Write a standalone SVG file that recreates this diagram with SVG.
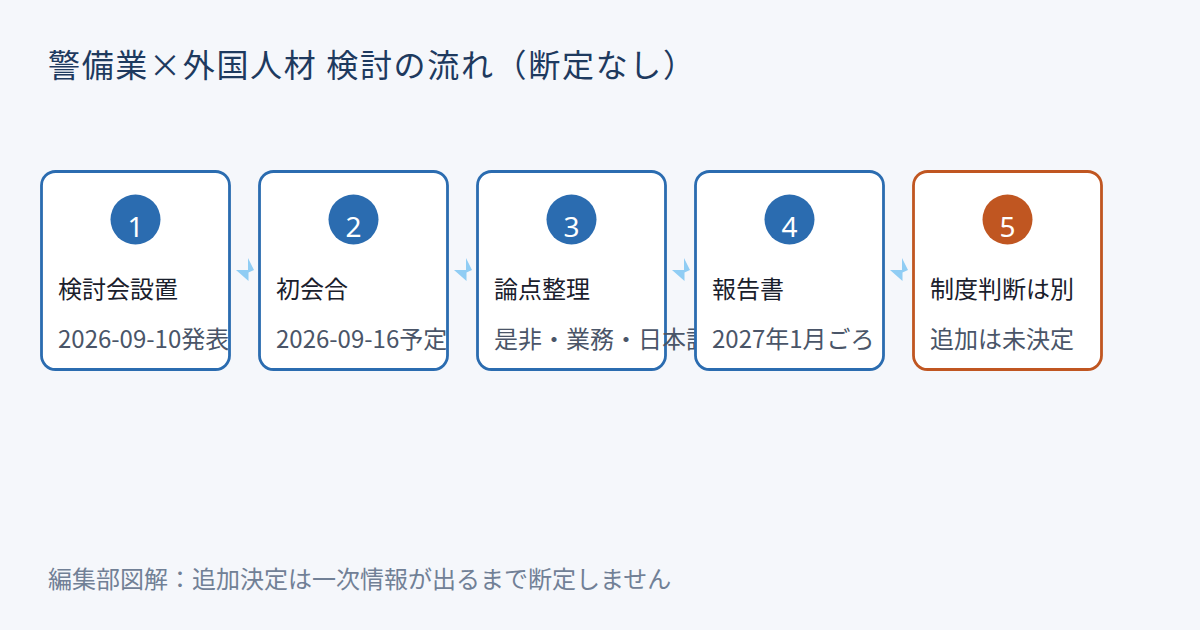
<svg xmlns="http://www.w3.org/2000/svg" width="1200" height="630" viewBox="0 0 1200 630">
<defs>
<style>
.bg{fill:#f5f7fb}
.box{fill:#ffffff;stroke:#2b6cb0;stroke-width:2.8}
.box.alt{stroke:#c05621}
.dot{fill:#2b6cb0}
.dot.alt{fill:#c05621}
.num{font-family:"Noto Sans","Noto Sans CJK JP",sans-serif;font-size:28px;fill:#ffffff;text-anchor:middle}
.ttl{font-family:"Noto Sans CJK JP","Noto Sans",sans-serif;font-size:24px;fill:#1a202c}
.sub{font-family:"Noto Sans CJK JP","Noto Sans",sans-serif;font-size:24px;fill:#4a5568}
.head{font-family:"Noto Sans CJK JP","Noto Sans",sans-serif;font-size:32px;fill:#1e3a5f}
.foot{font-family:"Noto Sans CJK JP","Noto Sans",sans-serif;font-size:24px;fill:#718096}
.arr{fill:#90cdf4}
</style>
<path id="arrow" d="M248,258 L254,270 L248,270 Z M236,270 L254,270 L248.5,272.5 L248.5,281 Z"/>
</defs>
<rect class="bg" x="0" y="0" width="1200" height="630"/>
<text class="head" x="48" y="77" textLength="647" lengthAdjust="spacing">警備業×外国人材 検討の流れ（断定なし）</text>
<g id="connectors">
<use href="#arrow" class="arr"/>
<use href="#arrow" class="arr" x="218"/>
<use href="#arrow" class="arr" x="436"/>
<use href="#arrow" class="arr" x="654"/>
</g>
<g id="node1">
<rect class="box" x="41.5" y="171.5" width="188" height="198" rx="14"/>
<circle class="dot" cx="135.5" cy="219.5" r="25"/>
<text class="num" x="135.5" y="237">1</text>
<text class="ttl" x="58" y="298">検討会設置</text>
<text class="sub" x="58" y="348">2026-09-10発表</text>
</g>
<g id="node2">
<rect class="box" x="259.5" y="171.5" width="188" height="198" rx="14"/>
<circle class="dot" cx="353.5" cy="219.5" r="25"/>
<text class="num" x="353.5" y="237">2</text>
<text class="ttl" x="276" y="298">初会合</text>
<text class="sub" x="276" y="348">2026-09-16予定</text>
</g>
<g id="node3">
<rect class="box" x="477.5" y="171.5" width="188" height="198" rx="14"/>
<circle class="dot" cx="571.5" cy="219.5" r="25"/>
<text class="num" x="571.5" y="237">3</text>
<text class="ttl" x="494" y="298">論点整理</text>
<text class="sub" x="494" y="348">是非・業務・日本語</text>
</g>
<g id="node4">
<rect class="box" x="695.5" y="171.5" width="188" height="198" rx="14"/>
<circle class="dot" cx="789.5" cy="219.5" r="25"/>
<text class="num" x="789.5" y="237">4</text>
<text class="ttl" x="712" y="298">報告書</text>
<text class="sub" x="712" y="348">2027年1月ごろ</text>
</g>
<g id="node5">
<rect class="box alt" x="913.5" y="171.5" width="188" height="198" rx="14"/>
<circle class="dot alt" cx="1007.5" cy="219.5" r="25"/>
<text class="num" x="1007.5" y="237">5</text>
<text class="ttl" x="930" y="298">制度判断は別</text>
<text class="sub" x="930" y="348">追加は未決定</text>
</g>
<text class="foot" x="48" y="588">編集部図解：追加決定は一次情報が出るまで断定しません</text>
</svg>
